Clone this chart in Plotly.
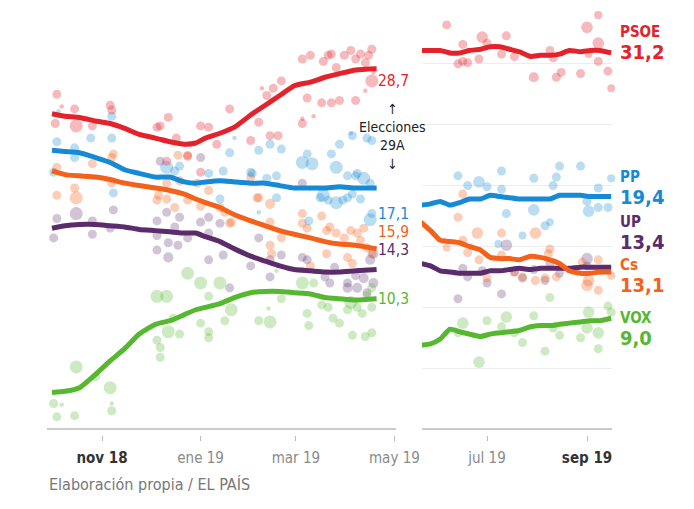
import pandas as pd
import plotly.graph_objects as go
from plotly.subplots import make_subplots

BASE = pd.Timestamp("2018-10-01")
def to_date(days):
    return [BASE + pd.Timedelta(days=float(d)) for d in days]

# ---------- smoothed averages (days since 2018-10-01) ----------
dias_a = [0, 8, 17, 27, 36, 45, 54, 64, 73, 82, 89, 95, 104, 113, 123, 132, 141, 150, 160, 169, 178, 188, 201]
psoe_a = [25.9, 25.7, 25.6, 25.3, 25.1, 24.7, 24.2, 23.9, 23.6, 23.4, 23.5, 23.9, 24.3, 24.8, 25.8, 26.6, 27.4, 28.2, 28.5, 28.9, 29.2, 29.5, 29.6]
pp_a = [22.9, 22.8, 22.7, 22.3, 21.9, 21.3, 21.0, 20.7, 20.7, 20.3, 20.2, 20.3, 20.4, 20.3, 20.2, 20.2, 20.0, 19.8, 19.8, 19.8, 19.9, 19.8, 19.8]
cs_a = [21.2, 20.9, 20.8, 20.7, 20.5, 20.2, 20.0, 19.8, 19.6, 19.3, 18.9, 18.6, 18.2, 17.6, 17.1, 16.7, 16.3, 16.0, 15.7, 15.4, 15.2, 15.1, 14.8]
up_a = [16.5, 16.7, 16.8, 16.8, 16.7, 16.6, 16.4, 16.3, 16.2, 16.1, 16.1, 15.8, 15.4, 14.8, 14.2, 13.8, 13.4, 13.1, 13.0, 12.9, 12.9, 13.0, 13.1]
vox_a = [3.0, 3.1, 3.4, 4.5, 5.6, 6.6, 7.8, 8.6, 8.9, 9.4, 9.8, 10.0, 10.3, 10.8, 11.2, 11.3, 11.3, 11.2, 11.1, 10.8, 10.7, 10.6, 10.7]

dias_b = [232, 238, 244, 250, 256, 262, 269, 275, 281, 287, 293, 300, 306, 312, 318, 324, 331, 337, 343, 350]
psoe_b = [31.1, 31.1, 31.1, 30.9, 30.9, 31.1, 31.2, 31.4, 31.4, 31.2, 31.0, 30.6, 30.7, 30.7, 30.8, 31.1, 31.0, 31.1, 31.1, 30.9]
pp_b = [18.4, 18.5, 18.7, 18.4, 18.6, 18.9, 18.9, 19.2, 19.1, 19.0, 18.9, 18.9, 18.9, 18.9, 19.2, 19.2, 19.2, 19.1, 19.1, 19.1]
cs_b = [17.0, 16.3, 15.5, 15.4, 15.3, 15.0, 14.7, 14.1, 14.0, 14.0, 13.9, 14.2, 14.1, 13.9, 13.6, 13.0, 12.8, 12.8, 12.9, 12.9]
up_b = [13.6, 13.4, 13.0, 12.9, 12.8, 12.8, 12.8, 13.0, 13.0, 13.1, 13.2, 13.1, 13.2, 13.2, 13.2, 13.2, 13.3, 13.3, 13.3, 13.3]
vox_b = [6.9, 7.0, 7.4, 8.2, 8.0, 7.8, 7.6, 7.8, 7.9, 8.0, 8.1, 8.4, 8.5, 8.5, 8.6, 8.7, 8.8, 8.9, 8.9, 9.1]

# ---------- individual polls: day, estimate, sample size ----------
psoe_dia = [3, 6, 14, 2, 15, 25, 36, 37, 65, 67, 72, 71, 84, 97, 102, 77, 92, 110, 92, 128, 123, 135, 140, 133, 137, 142, 155, 160, 168, 173, 176, 185, 191, 198, 194, 199, 198, 194, 158, 167, 173, 178, 188, 155, 155, 143, 130, 181, 188, 196, 171, 162,
            230, 248, 258, 270, 273, 285, 255, 258, 261, 268, 282, 290, 302, 312, 314, 316, 319, 331, 335, 342, 342, 336, 342, 348, 350]
psoe_val = [27.5, 26.5, 26.3, 25.1, 24.9, 24.9, 26.6, 26.2, 24.8, 24.9, 25.6, 22.0, 22.4, 24.8, 23.4, 23.9, 24.9, 26.3, 21.1, 25.2, 23.7, 24.1, 24.1, 27.4, 28.0, 28.6, 30.4, 30.7, 30.2, 30.8, 29.7, 31.1, 30.8, 31.2, 30.1, 29.3, 28.6, 27.8, 27.2, 26.8, 26.8, 27.0, 27.0, 25.1, 25.5, 27.5, 28.0, 30.7, 30.4, 30.7, 30.7, 25.7,
            33.3, 33.2, 31.6, 32.2, 31.7, 32.3, 30.0, 30.2, 30.1, 30.4, 30.8, 30.6, 28.9, 31.1, 30.5, 28.9, 29.3, 29.2, 33.0, 34.0, 31.7, 30.8, 30.2, 29.4, 28.0]
psoe_n = [1200, 300, 1200, 1200, 2500, 1200, 1200, 1200, 1200, 1200, 1200, 1200, 1200, 1200, 1200, 1200, 1200, 1200, 1200, 1200, 1200, 1200, 1200, 1200, 1200, 1200, 1200, 1200, 1200, 1200, 1200, 1200, 1200, 1200, 1200, 300, 2500, 300, 1200, 1200, 1200, 1200, 1200, 1200, 300, 300, 300, 1200, 1200, 1200, 1200, 300,
          1200, 1200, 1200, 2000, 1200, 1200, 1200, 1200, 1200, 1200, 1200, 1200, 1500, 1200, 1200, 1200, 1200, 1200, 2000, 1000, 2000, 900, 1200, 1200, 900]

pp_dia = [3, 1, 14, 14, 24, 37, 37, 38, 71, 79, 76, 97, 104, 106, 113, 124, 128, 135, 139, 142, 155, 158, 161, 173, 178, 176, 183, 188, 186, 195, 198, 166, 171, 176, 183, 191, 197, 197, 139, 185, 110, 123, 133, 128, 193, 189, 168, 180, 186, 198, 159, 4,
          230, 255, 261, 268, 273, 282, 282, 285, 302, 302, 314, 316, 318, 331, 335, 336, 342, 342, 348, 350, 309, 312, 295, 280]
pp_val = [23.6, 21.1, 23.1, 22.3, 23.9, 25.7, 23.9, 19.4, 21.5, 21.6, 21.2, 21.0, 18.9, 21.2, 23.9, 21.0, 22.9, 23.4, 19.0, 23.0, 21.9, 22.6, 21.8, 22.6, 23.4, 21.5, 20.8, 20.8, 24.1, 23.9, 23.7, 19.0, 18.8, 18.6, 19.0, 18.9, 17.2, 20.2, 20.8, 24.3, 22.7, 21.1, 20.6, 17.8, 20.6, 21.0, 19.2, 18.8, 19.3, 17.7, 17.1, 26.1,
          18.4, 20.8, 20.0, 20.3, 19.9, 21.2, 19.7, 17.7, 20.6, 18.0, 20.0, 20.7, 21.6, 21.6, 18.7, 17.9, 19.8, 18.2, 18.2, 20.6, 16.7, 17.0, 15.9, 15.2]
pp_n = [1200, 1200, 1200, 1200, 1200, 1200, 1200, 1200, 2500, 1200, 1200, 1200, 1200, 1200, 300, 1200, 1200, 1200, 1200, 1200, 2500, 1200, 2500, 1200, 1200, 2500, 1200, 1200, 1200, 1200, 1200, 1200, 1200, 2500, 1200, 1200, 2500, 1200, 1200, 300, 1200, 1200, 1200, 300, 2500, 1200, 2500, 1200, 1200, 1200, 1200, 300,
        1200, 1200, 1200, 2000, 1200, 1200, 1200, 1200, 1200, 2000, 1200, 1200, 1200, 1200, 1200, 2000, 1200, 1200, 1200, 1000, 1200, 900, 900, 900]

cs_dia = [3, 3, 14, 15, 25, 37, 37, 38, 65, 66, 71, 76, 84, 71, 78, 84, 97, 79, 90, 92, 104, 111, 127, 135, 135, 155, 167, 155, 170, 110, 135, 136, 142, 158, 172, 176, 170, 160, 183, 189, 191, 195, 198, 186, 185, 193, 181, 123, 128, 107,
          230, 258, 255, 258, 248, 261, 267, 268, 273, 282, 282, 290, 295, 303, 303, 309, 312, 316, 311, 332, 335, 336, 342, 342, 350]
cs_val = [21.5, 19.2, 19.8, 19.0, 21.8, 22.3, 20.2, 22.6, 18.8, 19.2, 18.9, 18.2, 18.8, 20.2, 22.5, 22.5, 19.6, 20.4, 20.2, 18.3, 18.2, 17.0, 19.0, 18.5, 17.0, 17.7, 17.5, 16.9, 16.3, 16.9, 15.1, 14.4, 15.7, 16.5, 16.6, 16.1, 14.4, 13.4, 14.1, 16.1, 15.5, 14.9, 14.4, 13.6, 16.3, 16.5, 15.7, 20.7, 19.0, 17.8,
          21.4, 19.3, 17.4, 15.5, 14.9, 14.5, 16.1, 13.9, 12.4, 16.1, 14.3, 12.9, 12.5, 16.1, 12.2, 12.4, 14.8, 12.5, 14.4, 13.7, 11.8, 12.2, 13.9, 11.4, 12.6]
cs_n = [1200, 1200, 1200, 2500, 1200, 1200, 1200, 1200, 1200, 1200, 1200, 1200, 1200, 1200, 1200, 1200, 1200, 1200, 1200, 1200, 1200, 1200, 1200, 1500, 1200, 1200, 1200, 1200, 1200, 1200, 1200, 1200, 1200, 1200, 1200, 1200, 1200, 1200, 1200, 1200, 1200, 1200, 1200, 1200, 1200, 1200, 1200, 1200, 1200, 1200,
        1200, 1200, 1200, 1200, 900, 1200, 2000, 1200, 1200, 1200, 1200, 1200, 1200, 2000, 1200, 1200, 1200, 1200, 1200, 1200, 2000, 2000, 1200, 1200, 1000]

up_dia = [3, 15, 25, 38, 65, 71, 79, 92, 97, 92, 67, 1, 25, 36, 65, 72, 65, 72, 78, 84, 76, 97, 97, 104, 110, 106, 123, 128, 135, 135, 142, 155, 158, 169, 172, 175, 183, 183, 188, 189, 193, 195, 199, 197, 199, 155,
          230, 255, 258, 261, 270, 273, 282, 285, 290, 295, 302, 309, 318, 335, 335, 312]
up_val = [17.3, 17.7, 17.1, 18.0, 17.1, 17.8, 17.4, 17.0, 17.4, 22.3, 22.0, 15.7, 16.0, 16.5, 15.9, 15.3, 14.7, 14.1, 15.1, 15.7, 16.6, 16.1, 13.9, 16.9, 11.6, 14.3, 13.4, 15.7, 12.5, 13.9, 14.3, 14.1, 13.9, 12.5, 12.0, 13.3, 12.0, 11.6, 12.6, 11.6, 12.4, 11.2, 12.0, 13.9, 14.4, 20.2,
          14.6, 10.7, 13.2, 12.5, 13.0, 12.0, 11.1, 15.1, 12.9, 12.4, 13.1, 12.2, 12.8, 14.0, 13.4, 13.6]
up_n = [1200, 2500, 1200, 1200, 1200, 1200, 1200, 1200, 1200, 1200, 1200, 1200, 1200, 1200, 1200, 1200, 1200, 1500, 1200, 1200, 1200, 1200, 1200, 1200, 1200, 1200, 1200, 1200, 1200, 1200, 1200, 1200, 1200, 1200, 1200, 1200, 1200, 1500, 1200, 1500, 1500, 1200, 1500, 1500, 1500, 1200,
        1200, 1200, 1200, 1200, 1200, 1200, 1200, 2000, 1200, 1200, 1200, 1200, 1200, 2000, 1200, 1200]

vox_dia = [1, 6, 3, 14, 15, 27, 36, 37, 37, 65, 71, 75, 72, 65, 67, 67, 79, 84, 92, 92, 97, 97, 97, 104, 111, 107, 128, 135, 142, 134, 158, 159, 155, 167, 171, 174, 178, 183, 185, 189, 192, 198, 195, 198, 186, 194, 198, 162, 139,
           230, 258, 255, 268, 273, 282, 285, 290, 295, 302, 309, 312, 314, 318, 331, 335, 336, 342, 342, 348, 350]
vox_val = [2.1, 2.0, 1.0, 1.1, 5.1, 4.3, 3.4, 2.1, 1.5, 10.9, 10.9, 9.1, 8.0, 7.3, 6.7, 5.9, 7.8, 12.8, 12.0, 8.7, 10.9, 8.0, 7.5, 12.0, 9.8, 8.9, 8.9, 8.8, 10.7, 9.9, 9.5, 8.5, 12.0, 10.2, 10.0, 9.1, 8.7, 9.8, 10.4, 10.0, 9.5, 10.0, 11.0, 11.6, 7.7, 7.6, 7.9, 12.0, 13.0,
           3.1, 8.7, 7.9, 5.5, 8.9, 8.4, 9.2, 7.9, 7.1, 9.3, 6.4, 10.8, 8.3, 7.7, 7.5, 8.3, 9.6, 7.9, 6.6, 10.1, 9.6]
vox_n = [1200, 300, 1200, 1200, 2500, 1200, 2500, 300, 1200, 2500, 2500, 1200, 2500, 1200, 1200, 1200, 1200, 2500, 2500, 1200, 1200, 1200, 1200, 2500, 2500, 1200, 1200, 2500, 1200, 300, 1200, 1200, 2500, 1200, 1200, 1200, 1200, 1200, 2500, 1200, 1200, 1200, 1200, 1200, 1200, 1200, 1200, 1200, 300,
         1200, 2000, 1200, 2000, 1200, 1200, 2000, 1200, 1200, 1200, 1200, 1200, 1200, 1200, 1200, 2000, 2000, 2000, 1200, 1200, 1200]

# election results (28A) and latest average
partidos = ["PSOE", "PP", "UP", "Cs", "VOX"]
resultado_28a = ["28,7", "17,1", "14,3", "15,9", "10,3"]
ultimo = ["31,2", "19,4", "13,4", "13,1", "9,0"]

colores = {"PSOE": "#e3222b", "PP": "#168ad4", "UP": "#5b2b6b", "Cs": "#f4611a", "VOX": "#55b830"}
rgba = {"PSOE": "rgba(227,34,43,0.45)", "PP": "rgba(22,138,212,0.42)", "UP": "rgba(91,43,107,0.40)",
        "Cs": "rgba(244,97,26,0.45)", "VOX": "rgba(85,184,48,0.42)"}

series_a = {"PSOE": psoe_a, "PP": pp_a, "UP": up_a, "Cs": cs_a, "VOX": vox_a}
series_b = {"PSOE": psoe_b, "PP": pp_b, "UP": up_b, "Cs": cs_b, "VOX": vox_b}
encuestas = {"PSOE": (psoe_dia, psoe_val, psoe_n), "PP": (pp_dia, pp_val, pp_n), "UP": (up_dia, up_val, up_n),
             "Cs": (cs_dia, cs_val, cs_n), "VOX": (vox_dia, vox_val, vox_n)}

FONT = "Liberation Sans Narrow, DejaVu Sans Condensed, Roboto, sans-serif"

fig = make_subplots(rows=1, cols=2)

# dots
for p in ["UP", "VOX", "Cs", "PP", "PSOE"]:
    d, v, n = encuestas[p]
    for col, sel in [(1, lambda x: x <= 212), (2, lambda x: x > 212)]:
        idx = [i for i in range(len(d)) if sel(d[i])]
        fig.add_trace(go.Scatter(
            x=to_date([d[i] for i in idx]), y=[v[i] for i in idx], mode="markers",
            marker=dict(size=[2.6 * (n[i] / 100) ** 0.5 for i in idx], color=rgba[p], line=dict(width=0)),
            cliponaxis=False, showlegend=False, hoverinfo="skip"), row=1, col=col)

# lines
for p in ["VOX", "UP", "Cs", "PP", "PSOE"]:
    fig.add_trace(go.Scatter(x=to_date(dias_a), y=series_a[p], mode="lines",
                             line=dict(color=colores[p], width=5, shape="spline", smoothing=0.5),
                             showlegend=False, hoverinfo="skip"), row=1, col=1)
    fig.add_trace(go.Scatter(x=to_date(dias_b), y=series_b[p], mode="lines",
                             line=dict(color=colores[p], width=5, shape="spline", smoothing=0.5),
                             showlegend=False, hoverinfo="skip"), row=1, col=2)

W, H = 694, 509
ybot, ytop = 435, 3
yrange = [-0.49, 35.0]

left_ticks = to_date([31, 92, 151, 212])
right_ticks = to_date([273, 335])
tick_l = ['<b><span style="color:#333">nov 18</span></b>', "ene 19", "mar 19", "may 19"]
tick_r = ["jul 19", '<b><span style="color:#333">sep 19</span></b>']

common_x = dict(type="date", showgrid=False, zeroline=False, showline=False, ticks="outside", ticklen=5,
                tickcolor="#bbbbbb", tickwidth=1, tickfont=dict(family=FONT, size=15, color="#8a8a8a"),
                ticklabelstandoff=4, automargin=False)
fig.update_xaxes(**common_x)
fig.update_yaxes(automargin=False)
fig.update_layout(
    xaxis=dict(domain=[47 / W, 396 / W], range=to_date([-3.1, 213.0]), tickvals=left_ticks, ticktext=tick_l),
    xaxis2=dict(domain=[422 / W, 612 / W], range=to_date([232.7, 350.5]), tickvals=right_ticks, ticktext=tick_r),
    yaxis=dict(domain=[(H - ybot) / H, (H - ytop) / H], range=yrange, showgrid=False, zeroline=False,
               showticklabels=False, showline=False),
    yaxis2=dict(domain=[(H - ybot) / H, (H - ytop) / H], range=yrange, showgrid=True, gridcolor="#ededed",
                gridwidth=1, dtick=5, tick0=0, zeroline=False, showticklabels=False, showline=False),
)

# baseline axis lines
for xr, yr in [("x domain", "y"), ("x2 domain", "y2")]:
    fig.add_shape(type="line", xref=xr, yref=yr, x0=0, x1=1, y0=0, y1=0,
                  line=dict(color="#bbbbbb", width=1.5))

annots = []
# left labels (results 28A)
left_y = {"PSOE": 28.6, "PP": 17.7, "Cs": 16.2, "UP": 14.7, "VOX": 10.7}
for p, t in zip(partidos, resultado_28a):
    annots.append(dict(x=377 / W, xref="paper", y=left_y[p], yref="y", text=t, showarrow=False,
                       xanchor="left", yanchor="middle", borderpad=0,
                       font=dict(family=FONT, size=15.5, color=colores[p])))
# right labels: party name over latest average
right_y = {"PSOE": 31.7, "PP": 19.8, "UP": 16.1, "Cs": 12.5, "VOX": 8.2}
for p, t in zip(partidos, ultimo):
    annots.append(dict(x=619 / W, xref="paper", y=right_y[p], yref="y2",
                       text=(f'<b><span style="font-size:15px">{p}</span></b><br>'
                             f'<b><span style="font-size:20px">{t}</span></b>'),
                       showarrow=False, xanchor="left", yanchor="middle", align="left", borderpad=0,
                       font=dict(family=FONT, size=17, color=colores[p])))
annots.append(dict(x=392 / W, xref="paper", y=24.0, yref="y", text="↑<br>Elecciones<br>29A<br>↓",
                   showarrow=False, xanchor="center", yanchor="middle", align="center",
                   font=dict(family=FONT, size=14, color="#222")))
annots.append(dict(x=47 / W, xref="paper", y=(H - 484) / H, yref="paper", text="Elaboración propia / EL PAÍS",
                   showarrow=False, xanchor="left", yanchor="middle",
                   font=dict(family=FONT, size=16, color="#777")))

fig.update_layout(width=W, height=H, margin=dict(l=0, r=0, t=0, b=0, autoexpand=False), paper_bgcolor="white",
                  plot_bgcolor="white", annotations=annots, showlegend=False, hovermode=False)

fig.write_html("out.html", config={"responsive": False})
